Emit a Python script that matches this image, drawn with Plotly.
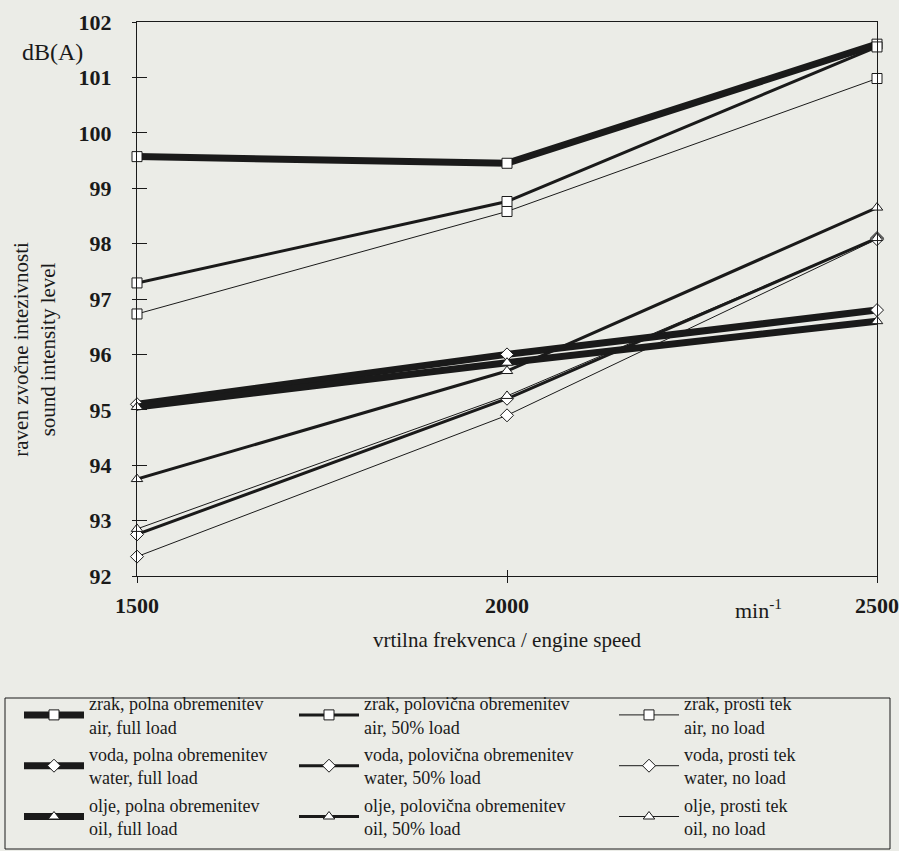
import plotly.graph_objects as go

# engine speed, min^-1
speed = [1500, 2000, 2500]

# sound intensity level, dB(A)
air_full = [99.57, 99.45, 101.60]
air_half = [97.29, 98.76, 101.55]
air_idle = [96.73, 98.58, 100.98]
water_full = [95.10, 96.00, 96.80]
water_half = [92.75, 95.20, 98.10]
water_idle = [92.35, 94.90, 98.08]
oil_full = [95.05, 95.85, 96.60]
oil_half = [93.75, 95.70, 98.65]
oil_idle = [92.85, 95.25, 98.10]

y_ticks = list(range(92, 103))
x_ticks = [1500, 2000, 2500]

# (label, values, marker, line width, legend column)
series = [
    ("zrak, polna obremenitev<br>air, full load", air_full, "square", 7, "legend"),
    ("voda, polna obremenitev<br>water, full load", water_full, "diamond", 7, "legend"),
    ("olje, polna obremenitev<br>oil, full load", oil_full, "triangle-up", 7, "legend"),
    ("zrak, polovična obremenitev<br>air, 50% load", air_half, "square", 3, "legend2"),
    ("voda, polovična obremenitev<br>water, 50% load", water_half, "diamond", 3, "legend2"),
    ("olje, polovična obremenitev<br>oil, 50% load", oil_half, "triangle-up", 3, "legend2"),
    ("zrak, prosti tek<br>air, no load", air_idle, "square", 1, "legend3"),
    ("voda, prosti tek<br>water, no load", water_idle, "diamond", 1, "legend3"),
    ("olje, prosti tek<br>oil, no load", oil_idle, "triangle-up", 1, "legend3"),
]

SERIF = "Liberation Serif"
INK = "#1a1a1a"
PAPER = "#ebece7"

fig = go.Figure()
for i, (name, vals, sym, w, leg) in enumerate(series):
    fig.add_trace(go.Scatter(
        x=speed, y=vals, name=name, mode="lines+markers",
        legend=leg, legendgroup="g%d" % i,
        line=dict(color=INK, width=w),
        marker=dict(symbol=sym, size=10, color="white",
                    line=dict(color=INK, width=1)),
        cliponaxis=False,
    ))

# inward half of the crossing tick marks
fig.add_trace(go.Scatter(x=[None], y=[None], xaxis="x2", yaxis="y2",
                         showlegend=False, hoverinfo="skip"))

axis_font = dict(family=SERIF, size=22, color=INK)
leg_common = dict(orientation="v", y=(576 - 685) / 554, xanchor="left",
                  yanchor="top", itemwidth=60, tracegroupgap=1,
                  bgcolor="rgba(0,0,0,0)", borderwidth=0,
                  font=dict(family=SERIF, size=18, color=INK))

fig.update_layout(
    width=899, height=851,
    margin=dict(l=137, r=22, t=22, b=275, autoexpand=False),
    paper_bgcolor=PAPER, plot_bgcolor=PAPER,
    font=dict(family=SERIF, color=INK),
    xaxis=dict(range=[1500, 2500], tickvals=x_ticks,
               ticktext=["<b>%d</b>" % v for v in x_ticks],
               ticks="outside", ticklen=6, tickwidth=1, tickcolor=INK,
               showline=True, linecolor=INK, linewidth=1, mirror=True,
               showgrid=False, zeroline=False, tickfont=axis_font,
               ticklabelstandoff=4,
               title=dict(text="vrtilna frekvenca / engine speed",
                          font=dict(family=SERIF, size=21, color=INK),
                          standoff=14)),
    yaxis=dict(range=[92, 102], tickvals=y_ticks,
               ticktext=["<b>%d</b>" % v for v in y_ticks],
               ticks="outside", ticklen=4, tickwidth=1, tickcolor=INK,
               showline=True, linecolor=INK, linewidth=1, mirror=True,
               showgrid=False, zeroline=False, tickfont=axis_font,
               ticklabelstandoff=16),
    xaxis2=dict(overlaying="x", matches="x", tickvals=x_ticks[1:],
                ticks="inside", ticklen=6, tickwidth=1, tickcolor=INK,
                showticklabels=False, showgrid=False, zeroline=False,
                showline=False),
    yaxis2=dict(overlaying="y", matches="y", tickvals=y_ticks,
                ticks="inside", ticklen=10, tickwidth=1, tickcolor=INK,
                showticklabels=False, showgrid=False, zeroline=False,
                showline=False),
    legend=dict(x=(19 - 137) / 740, **leg_common),
    legend2=dict(x=(294 - 137) / 740, **leg_common),
    legend3=dict(x=(614 - 137) / 740, **leg_common),
    showlegend=True,
)

# frame around the three legend columns
fig.add_shape(type="rect", xref="paper", yref="paper",
              x0=(5 - 137) / 740, x1=(890 - 137) / 740,
              y0=(576 - 849) / 554, y1=(576 - 698) / 554,
              line=dict(color=INK, width=1), layer="below")

fig.add_annotation(text="dB(A)", xref="paper", yref="paper",
                   x=-0.07, y=0.946, xanchor="right", yanchor="middle",
                   showarrow=False, font=dict(family=SERIF, size=24, color=INK))
fig.add_annotation(text="min<sup>-1</sup>", xref="x", yref="paper",
                   x=2340, y=-0.06, xanchor="center", yanchor="middle",
                   showarrow=False, font=dict(family=SERIF, size=22, color=INK))
fig.add_annotation(text="raven zvočne intezivnosti<br>sound intensity level",
                   xref="paper", yref="paper", x=-0.138, y=0.41,
                   xanchor="center", yanchor="middle", textangle=-90,
                   showarrow=False,
                   font=dict(family=SERIF, size=21, color=INK))

fig.write_html("out.html")
